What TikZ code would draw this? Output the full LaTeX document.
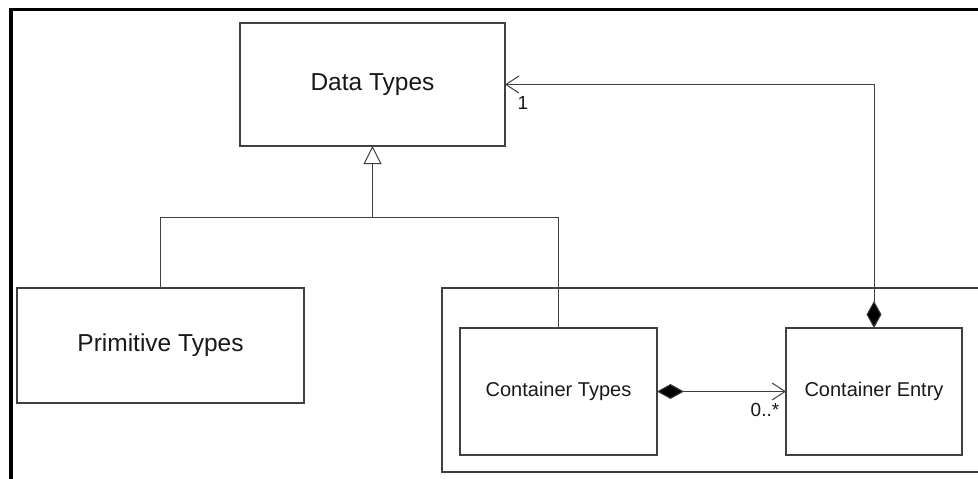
\documentclass[tikz,border=0pt]{standalone}
\usepackage{fontspec}
\setmainfont{Liberation Sans}
\usetikzlibrary{arrows.meta}
\definecolor{ln}{HTML}{404040}
\tikzset{
  umlbox/.style={draw=ln, line width=1.1pt, rectangle, inner sep=0pt, outer sep=0pt, align=center, text=black!90},
  conn/.style={draw=ln, line width=1pt},
  bigtxt/.style={font=\fontsize{24.5}{29}\selectfont},
  midtxt/.style={font=\fontsize{20}{24}\selectfont},
  lbl/.style={font=\fontsize{19}{22}\selectfont, inner sep=0pt, text=black!90},
  compo/.style={{Diamond[length=27pt,width=15pt,fill=black]}-{Straight Barb[length=13pt,width=17pt,line width=1pt]}},
  gen/.style={-{Triangle[open,length=18pt,width=18pt,line width=1pt,fill=white]}}
}
\begin{document}
\begin{tikzpicture}[x=1pt,y=-1pt]
\useasboundingbox (0,0) rectangle (978,479);
\clip (0,0) rectangle (978,479);
\fill[white] (0,0) rectangle (978,479);
% outer frame
\draw[black, line width=3.5pt] (11,479) -- (11,9.5) -- (990,9.5);
% group box
\draw[draw=ln, line width=1.1pt] (442,288) rectangle (1000,472);
% boxes
\node[umlbox, bigtxt, minimum width=265pt, minimum height=123pt] (dt) at (372.5,84.5) {Data Types};
\node[umlbox, bigtxt, minimum width=287pt, minimum height=115pt] (pt) at (160.5,345.5) {Primitive Types};
\node[umlbox, midtxt, minimum width=197pt, minimum height=127pt] (ct) at (558.5,391.5) {Container Types};
\node[umlbox, midtxt, minimum width=176pt, minimum height=127pt] (ce) at (874,391.5) {Container Entry};
\coordinate (bar) at (0,217.5);
% generalization
\draw[conn] (pt.north) -- (pt.north |- bar) -- (ct.north |- bar) -- (ct.north);
\draw[conn, gen] (dt.south |- bar) -- (dt.south);
% compositions
\draw[conn, compo] (ct.east) -- (ce.west);
\draw[conn, compo] (ce.north) -- (ce.north |- dt.east) -- (dt.east);
% labels
\node[lbl] (one) at (523,103) {1};
\node[lbl] (many) at (765,410) {0..*};
\end{tikzpicture}
\end{document}
